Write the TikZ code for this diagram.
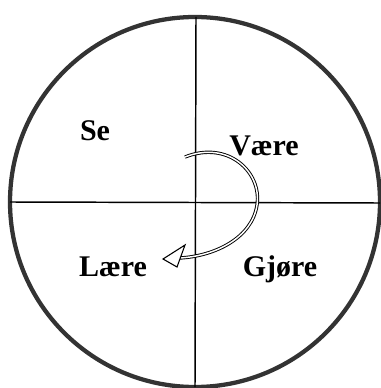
\documentclass[tikz,border=0pt]{standalone}
\usepackage{fontspec}
\setmainfont{Liberation Serif}
\begin{document}
\begin{tikzpicture}[x=0.75pt, y=-0.75pt, line width=1.1pt]
  \tikzset{word/.style={font=\fontsize{22.5}{26}\selectfont\bfseries, inner sep=0pt, anchor=base}}
  \useasboundingbox (0,0) rectangle (380,388);
  % wheel
  \coordinate (O) at (195,202);
  \draw[line width=3.2pt, black!80] (O) circle (185);
  \coordinate (N) at (196,17);
  \coordinate (S) at (195,387);
  \coordinate (W) at (10,202);
  \coordinate (E) at (380,203);
  \draw (N) -- (S);
  \draw (W) -- (E);
  % the four words
  \node[word] (se) at (95,141) {Se};
  \node[word] (vaere) at (264,156) {Være};
  \node[word] (laere) at (113,276) {Lære};
  \node[word] (gjore) at (280,276) {Gjøre};
  % turning arrow
  \coordinate (start) at (185,157);
  \coordinate (turn) at (257,205);
  \coordinate (stop) at (180,258);
  \coordinate (tip) at (163,259);
  \coordinate (up) at (185,245);
  \coordinate (down) at (177,267);
  \draw[line width=0.7pt, double=white, double distance=1.1pt]
    (start) .. controls (228,140) and (262,172) .. (turn)
    .. controls (252,238) and (215,256) .. (stop);
  \draw[line width=0.8pt, fill=white, line join=miter] (tip) -- (up) -- (down) -- cycle;
\end{tikzpicture}
\end{document}
